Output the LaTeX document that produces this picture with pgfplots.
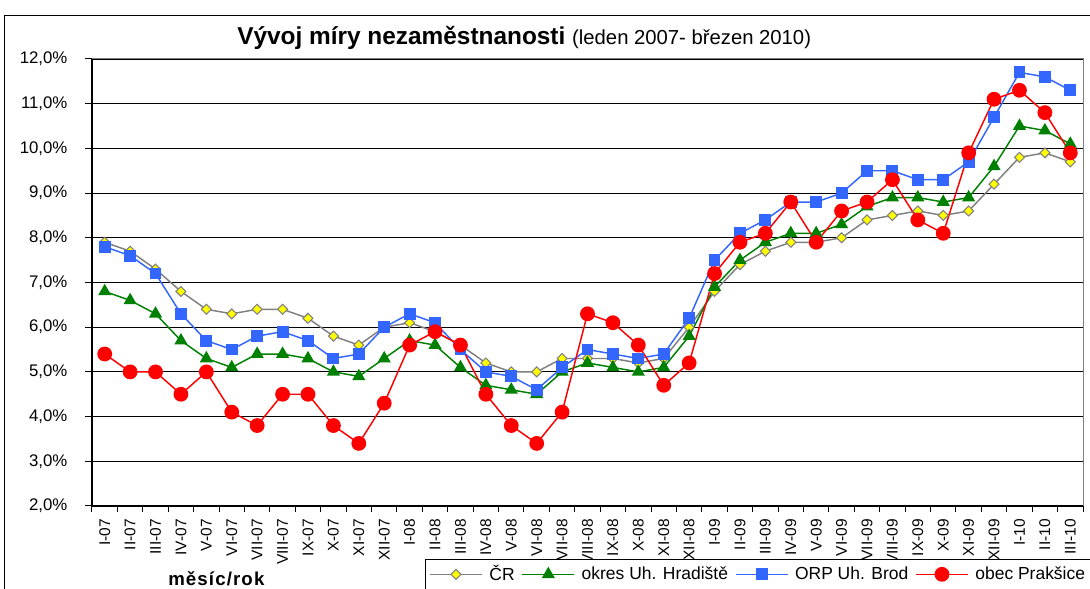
\documentclass[border=0pt]{standalone}
\usepackage{fontspec}
\setmainfont{Liberation Sans}
\usepackage{pgfplots}
\pgfplotsset{compat=1.18}
\usepackage{pgfplotstable}

\definecolor{crgray}{RGB}{128,128,128}
\definecolor{crfill}{RGB}{255,255,0}
\definecolor{okgreen}{RGB}{0,128,0}
\definecolor{orpblue}{RGB}{51,102,255}
\definecolor{obred}{RGB}{255,0,0}

\pgfplotstableread{
i cr okres orp obec
0 7.9 6.8 7.8 5.4
1 7.7 6.6 7.6 5.0
2 7.3 6.3 7.2 5.0
3 6.8 5.7 6.3 4.5
4 6.4 5.3 5.7 5.0
5 6.3 5.1 5.5 4.1
6 6.4 5.4 5.8 3.8
7 6.4 5.4 5.9 4.5
8 6.2 5.3 5.7 4.5
9 5.8 5.0 5.3 3.8
10 5.6 4.9 5.4 3.4
11 6.0 5.3 6.0 4.3
12 6.1 5.7 6.3 5.6
13 5.9 5.6 6.1 5.9
14 5.6 5.1 5.5 5.6
15 5.2 4.7 5.0 4.5
16 5.0 4.6 4.9 3.8
17 5.0 4.5 4.6 3.4
18 5.3 5.0 5.1 4.1
19 5.3 5.2 5.5 6.3
20 5.3 5.1 5.4 6.1
21 5.2 5.0 5.3 5.6
22 5.3 5.1 5.4 4.7
23 6.0 5.8 6.2 5.2
24 6.8 6.9 7.5 7.2
25 7.4 7.5 8.1 7.9
26 7.7 7.9 8.4 8.1
27 7.9 8.1 8.8 8.8
28 7.9 8.1 8.8 7.9
29 8.0 8.3 9.0 8.6
30 8.4 8.7 9.5 8.8
31 8.5 8.9 9.5 9.3
32 8.6 8.9 9.3 8.4
33 8.5 8.8 9.3 8.1
34 8.6 8.9 9.7 9.9
35 9.2 9.6 10.7 11.1
36 9.8 10.5 11.7 11.3
37 9.9 10.4 11.6 10.8
38 9.7 10.1 11.3 9.9
}\data

\begin{document}
\begin{tikzpicture}[x=0.75pt,y=0.75pt]
\useasboundingbox (-92,-83) rectangle (998,506);
\clip (-92,-83) rectangle (998,506);
% outer chart frame
\draw[black,line width=0.75pt] (-87,-120) -- (-87,490) -- (1020,490);
% title
\node[anchor=base west,inner sep=0pt] at (145,461)
  {\fontsize{18.3}{20}\selectfont\bfseries Vývoj míry nezaměstnanosti\ \fontsize{15.2}{18}\selectfont\mdseries(leden 2007- březen 2010)};
% x axis title
\node[anchor=base west,inner sep=0pt] at (76,-80)
  {\fontsize{14}{16}\selectfont\bfseries\addfontfeature{LetterSpace=6}měsíc/rok};
\begin{axis}[
  at={(0,0)}, anchor=south west,
  scale only axis,
  width=743.25pt, height=335.25pt,
  xmin=-0.5, xmax=38.5,
  ymin=2, ymax=12,
  axis lines=left,
  axis line style={-, black, line width=0.8pt},
  ytick={2,3,...,12},
  yticklabels={{2,0\%},{3,0\%},{4,0\%},{5,0\%},{6,0\%},{7,0\%},{8,0\%},{9,0\%},{10,0\%},{11,0\%},{12,0\%}},
  xtick={0,1,...,38},
  xticklabels={I-07,II-07,III-07,IV-07,V-07,VI-07,VII-07,VIII-07,IX-07,X-07,XI-07,XII-07,
               I-08,II-08,III-08,IV-08,V-08,VI-08,VII-08,VIII-08,IX-08,X-08,XI-08,XII-08,
               I-09,II-09,III-09,IV-09,V-09,VI-09,VII-09,VIII-09,IX-09,X-09,XI-09,XII-09,
               I-10,II-10,III-10},
  minor xtick={-0.5,0.5,...,38.5},
  major x tick style={draw=none},
  tick align=outside,
  major tick length=5.25pt,
  minor tick length=4.5pt,
  tick style={black, line width=0.75pt},
  ymajorgrids,
  major grid style={black, line width=0.6pt},
  xticklabel style={rotate=90, anchor=east, font=\fontsize{11.6}{13}\selectfont, inner sep=4.5pt},
  yticklabel style={font=\fontsize{12.6}{14}\selectfont, inner sep=1pt, xshift=-12pt},
  legend columns=4,
  legend style={at={(axis description cs:0.3365,-0.1175)}, anchor=north west,
    draw=black, line width=0.75pt, font=\fontsize{13.1}{15}\selectfont,
    inner xsep=2.5pt, inner ysep=3pt,
    /tikz/every odd column/.append style={column sep=3pt},
    /tikz/every even column/.append style={column sep=3.2pt}},
  legend image code/.code={\draw[mark repeat=2,mark phase=2,#1] plot coordinates {(0pt,0pt) (19.5pt,0pt) (39pt,0pt)};},
  clip=false,
]
\draw[crgray, line width=0.75pt] (rel axis cs:0,1) -- (rel axis cs:1,1) -- (rel axis cs:1,0);
\addplot[crgray, line width=1.1pt, mark=square*, mark size=2.65pt,
  mark options={rotate=45, fill=crfill, draw=crgray, line width=0.8pt}]
  table[x=i, y=cr] {\data};
\addlegendentry{ČR}
\addplot[okgreen, line width=1.1pt, mark=triangle*, mark size=4.6pt,
  mark options={fill=okgreen, draw=okgreen}]
  table[x=i, y=okres] {\data};
\addlegendentry{okres Uh. Hradiště}
\addplot[orpblue, line width=1.1pt, mark=square*, mark size=3.9pt,
  mark options={fill=orpblue, draw=orpblue}]
  table[x=i, y=orp] {\data};
\addlegendentry{ORP Uh. Brod}
\addplot[obred, line width=1.1pt, mark=*, mark size=5pt,
  mark options={fill=obred, draw=obred}]
  table[x=i, y=obec] {\data};
\addlegendentry{obec Prakšice}
\end{axis}
\end{tikzpicture}
\end{document}
